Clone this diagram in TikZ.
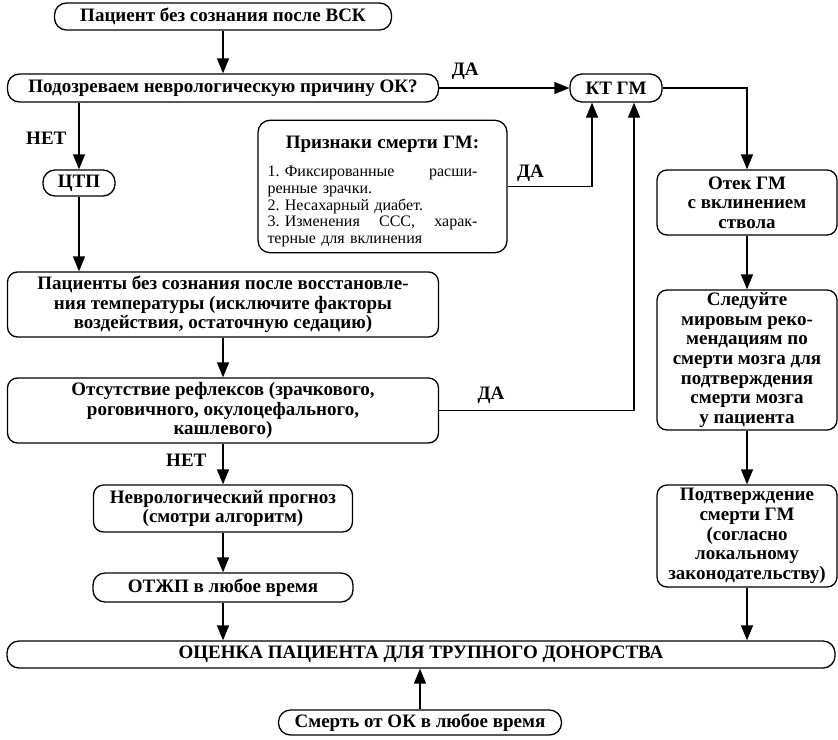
\documentclass[tikz,border=0pt]{standalone}
\usepackage{fontspec}
\setmainfont{Liberation Serif}
\usetikzlibrary{arrows.meta,positioning}

\begin{document}
\begin{tikzpicture}[
  x=0.5pt,
  y=-0.5pt,
  every node/.style={font=\fontsize{9.5}{9.8}\selectfont\bfseries},
  term/.style={draw=black, line width=0.65pt, rounded corners=6pt, inner xsep=2pt, inner ysep=1pt, align=center},
  proc/.style={draw=black, line width=0.65pt, rounded corners=5pt, inner xsep=1pt, inner ysep=1pt, align=center},
  side/.style={proc, minimum width=90pt},
  wide/.style={proc, minimum width=215.5pt, minimum height=32.5pt},
  note/.style={draw=black, line width=0.65pt, rounded corners=6pt, inner xsep=4.75pt, inner ysep=3pt, text width=115pt, align=left, font=\fontsize{8}{8.3}\selectfont},
  lbl/.style={inner sep=1pt},
  flow/.style={-{Triangle[length=7.5pt, width=6pt]}, line width=0.65pt}
]
\useasboundingbox (0,0) rectangle (838,739);

\node[term, minimum width=168.5pt, minimum height=13.5pt] (start) at (223,16.5) {Пациент без сознания после ВСК};
\node[term, minimum width=215.5pt, minimum height=14pt] (suspect) at (223,88) {Подозреваем неврологическую причину ОК?};
\node[term, minimum width=36pt, minimum height=13pt] (ttm) at (79,183) {ЦТП};
\node[term, minimum width=46pt, minimum height=14pt] (ct) at (616,88) {КТ ГМ};
\node[note] (signs) at (382.5,186.5) {{\centering\fontsize{9.5}{9.8}\selectfont\bfseries\rule{0pt}{11pt}Признаки смерти ГМ:\par}\vspace{6pt}
\makebox[105pt][s]{1.~Фиксированные\hfill расши-}\\
ренные зрачки.\\
2.~Несахарный диабет.\\
\makebox[105pt][s]{3.~Изменения\hfill ССС,\hfill харак-}\\
терные для вклинения};
\node[wide] (rewarm) at (223,304.5) {Пациенты без сознания после восстановле-\\ния температуры (исключите факторы\\воздействия, остаточную седацию)};
\node[wide] (reflex) at (223,410.5) {Отсутствие рефлексов (зрачкового,\\роговичного, окулоцефального,\\кашлевого)};
\node[proc, minimum width=129.5pt, minimum height=23.5pt] (prog) at (223,508.5) {Неврологический прогноз\\(смотри алгоритм)};
\node[term, minimum width=130pt, minimum height=14.5pt] (wlst) at (223,587.5) {ОТЖП в любое время};
\node[term, minimum width=414pt, minimum height=13.5pt] (donor) at (421,654.5) {ОЦЕНКА ПАЦИЕНТА ДЛЯ ТРУПНОГО ДОНОРСТВА};
\node[term, minimum width=141.5pt, minimum height=12.5pt] (death) at (420,722.5) {Смерть от ОК в любое время};

\node[side, minimum height=32.5pt] (edema) at (747,202.5) {Отек ГМ\\с вклинением\\ствола};
\node[side, minimum height=70pt] (guide) at (747,360) {Следуйте\\мировым реко-\\мендациям по\\смерти мозга для\\подтверждения\\смерти мозга\\у пациента};
\node[side, minimum height=51pt] (confirm) at (747,536) {Подтверждение\\смерти ГМ\\(согласно\\локальному\\законодательству)};

\draw[flow] (start.south) -- (start.south |- suspect.north);
\draw[flow] (suspect.south -| ttm.north) -- node[lbl, left=5pt, pos=0.54] (no1) {НЕТ} (ttm.north);
\draw[flow] (suspect.east) -- node[lbl, above=3pt, pos=0.2] (yes1) {ДА} (ct.west);
\draw[flow] (ttm.south) -- (ttm.south |- rewarm.north);
\draw[flow] (rewarm) -- (reflex);
\draw[flow] (signs.east) -| node[lbl, above=1pt, pos=0.135] (yes2) {ДА} ([xshift=-12pt]ct.south);
\draw[flow] (reflex.east) -| node[lbl, above=2pt, pos=0.133] (yes3) {ДА} ([xshift=9pt]ct.south);
\draw[flow] (reflex) -- node[lbl, left=7pt, pos=0.4] (no2) {НЕТ} (prog);
\draw[flow] (prog) -- (wlst);
\draw[flow] (wlst.south) -- (wlst.south |- donor.north);
\draw[flow] (ct.east) -| (edema.north);
\draw[flow] (edema) -- (guide);
\draw[flow] (guide) -- (confirm);
\draw[flow] (confirm.south) -- (confirm.south |- donor.north);
\draw[flow] (death.north) -- (death.north |- donor.south);
\end{tikzpicture}
\end{document}
